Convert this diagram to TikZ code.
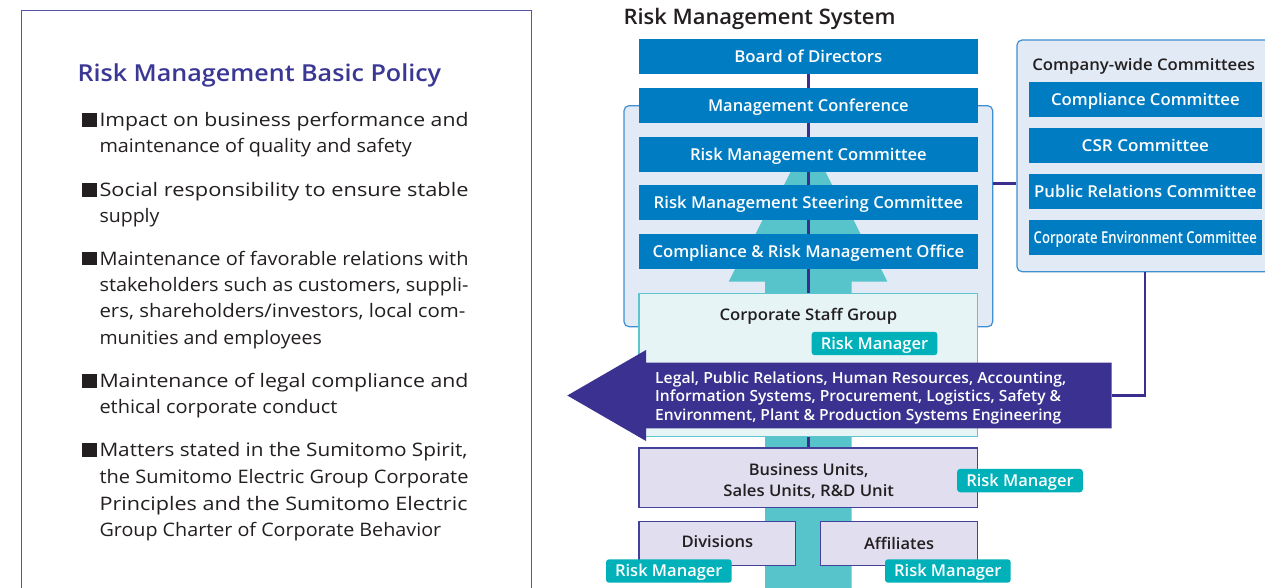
\documentclass[tikz,border=0pt]{standalone}
\usepackage{fontspec}
\usepackage{graphicx}
\setmainfont{Open Sans}
\newfontfamily\semiX{Open Sans}
\IfFontExistsTF{Open Sans SemiBold}{\newfontfamily\semi{Open Sans SemiBold}}{%
  \IfFontExistsTF{Open Sans Semibold}{\newfontfamily\semi{Open Sans Semibold}}{%
    \newcommand{\semi}{\semiX\bfseries}}}
\newcommand{\fw}[2]{\resizebox{#1pt}{\height}{#2}}
\definecolor{cblue}{HTML}{007CC2}
\definecolor{cgrp}{HTML}{E1EAF5}
\definecolor{cgrpb}{HTML}{3F8FD3}
\definecolor{cnavy}{HTML}{3A2F8F}
\definecolor{cpurple}{HTML}{3A3190}
\definecolor{cteal}{HTML}{57C4CC}
\definecolor{ccsg}{HTML}{E6F4F6}
\definecolor{ccsgb}{HTML}{5CC5CD}
\definecolor{clav}{HTML}{E1DEF0}
\definecolor{clavb}{HTML}{44419B}
\definecolor{ctag}{HTML}{00B1B9}
\definecolor{cdark}{HTML}{231F20}
\definecolor{ctitle}{HTML}{3A3894}
\definecolor{cframe}{HTML}{5655A5}
\begin{document}
\begin{tikzpicture}[x=1pt,y=-1pt,
  bluebox/.style={fill=cblue, text=white, font=\semi\fontsize{16.4}{19}\selectfont, inner sep=0pt, minimum height=34.7pt, text height=11.7pt, text depth=0pt},
  mainbox/.style={bluebox, minimum width=338.7pt},
  cwbox/.style={bluebox, minimum width=232.7pt, minimum height=35pt},
  grpbox/.style={fill=cgrp, draw=cgrpb, line width=1.2pt, rounded corners=5pt, inner sep=0pt},
  navyline/.style={draw=cnavy, line width=2.5pt},
  lavbox/.style={fill=clav, draw=clavb, line width=1.3pt, inner sep=0pt, text=cdark, font=\semi\fontsize{16}{19}\selectfont, text height=11.3pt, text depth=0pt},
  rmtag/.style={fill=ctag, text=white, rounded corners=3pt, font=\semi\fontsize{16.4}{19}\selectfont, minimum width=125.7pt, minimum height=23.4pt, inner sep=0pt, text height=11.7pt, text depth=0pt},
  bodytxt/.style={font=\fontsize{18.6}{26}\selectfont, text=cdark, inner sep=0pt, anchor=base west},
  darklbl/.style={font=\semi\fontsize{16}{19}\selectfont, text=cdark, inner sep=0pt, anchor=base},
  arrtxt/.style={font=\semi\fontsize{15.4}{18}\selectfont, text=white, inner sep=0pt, anchor=base west},
  bulletsq/.style={fill=cdark}
]
\useasboundingbox (0,0) rectangle (1265,588);
\clip (0,0) rectangle (1265,588);
\fill[white] (0,0) rectangle (1265,588);

% ---------- left panel ----------
\draw[cframe, line width=1.3pt] (21.3,10.3) rectangle (531.5,610);
\node[anchor=base west, inner sep=0pt, text=ctitle, font=\semi\fontsize{23.4}{26}\selectfont] (ttl) at (77.3,81.7) {\fw{363.7}{Risk Management Basic Policy}};

\foreach \yy in {126.7,196.7,265,387.7,456.7} {
  \fill[bulletsq] (81.7,\yy-13.4) rectangle (96.7,\yy);
}
\node[bodytxt] (l1) at (99.3,126.7) {\fw{369}{Impact on business performance and}};
\node[bodytxt] (l2) at (99.3,152.2) {\fw{312.4}{maintenance of quality and safety}};
\node[bodytxt] (l3) at (99.3,196.7) {\fw{369}{Social responsibility to ensure stable}};
\node[bodytxt] (l4) at (99.3,222.3) {\fw{60}{supply}};
\node[bodytxt] (l5) at (99.3,265) {\fw{369}{Maintenance of favorable relations with}};
\node[bodytxt] (l6) at (99.3,291.5) {\fw{369}{stakeholders such as customers, suppli-}};
\node[bodytxt] (l7) at (99.3,317.7) {\fw{366}{ers, shareholders/investors, local com-}};
\node[bodytxt] (l8) at (99.3,344.3) {\fw{222.3}{munities and employees}};
\node[bodytxt] (l9) at (99.3,387.7) {\fw{369}{Maintenance of legal compliance and}};
\node[bodytxt] (l10) at (99.3,413.3) {\fw{238}{ethical corporate conduct}};
\node[bodytxt] (l11) at (99.3,456.7) {\fw{368}{Matters stated in the Sumitomo Spirit,}};
\node[bodytxt] (l12) at (99.3,483.3) {\fw{369}{the Sumitomo Electric Group Corporate}};
\node[bodytxt] (l13) at (99.3,510) {\fw{368}{Principles and the Sumitomo Electric}};
\node[bodytxt] (l14) at (99.3,536.7) {\fw{341.7}{Group Charter of Corporate Behavior}};

% ---------- right panel ----------
\node[anchor=base west, inner sep=0pt, text=cdark, font=\semi\fontsize{21.4}{24}\selectfont] (rms) at (623.3,24.3) {\fw{272}{Risk Management System}};

\node[grpbox, minimum width=368.7pt, minimum height=221pt] (grp) at (808.35,216.2) {};
\node[grpbox, minimum width=256.4pt, minimum height=231.7pt] (cw) at (1145.2,155.85) {};

% teal tree arrow
\fill[cteal] (808,137) -- (771.5,210) -- (844.5,210) -- cycle;
\fill[cteal] (775,195) -- (841,195) -- (871,255) -- (745,255) -- cycle;
\fill[cteal] (747,245) -- (869,245) -- (887.35,281.7) -- (851.7,281.7) -- (851.7,610) -- (765,610) -- (765,281.7) -- (728.65,281.7) -- cycle;

% main column boxes (line drawn first, under boxes)
\node[mainbox] (board) at (808.35,56.35) {\fw{148}{Board of Directors}};
\node[lavbox, minimum width=338.7pt, minimum height=59.5pt] (bu) at (808.35,477.75) {};
\draw[navyline] (board.south) -- (bu.north);
\node[mainbox] (mc) at (808.35,105.35) {\fw{200.7}{Management Conference}};
\node[mainbox] (rmc) at (808.35,154.35) {\fw{236.7}{Risk Management Committee}};
\node[mainbox] (rmsc) at (808.35,202.35) {\fw{309.3}{Risk Management Steering Committee}};
\node[mainbox] (crmo) at (808.35,251.35) {\fw{311.7}{Compliance \& Risk Management Office}};

% corporate staff group
\node[fill=ccsg, draw=ccsgb, line width=1.2pt, inner sep=0pt, minimum width=338.7pt, minimum height=143pt] (csg) at (808.35,365) {};
\node[darklbl] (csgl) at (808.35,320.7) {\fw{177.7}{Corporate Staff Group}};
\node[rmtag] (rm1) at (874.5,343.5) {\fw{107.5}{Risk Manager}};

% purple arrow
\fill[cpurple] (567.3,395.5) -- (646,350) -- (646,362.7) -- (1111.7,362.7) -- (1111.7,428.3) -- (646,428.3) -- (646,441) -- cycle;
\coordinate (arrR) at (1111.7,395.5);
\node[arrtxt] (a1) at (655,383.3) {\fw{411}{Legal, Public Relations, Human Resources, Accounting,}};
\node[arrtxt] (a2) at (655,401.7) {\fw{406}{Information Systems, Procurement, Logistics, Safety \&}};
\node[arrtxt] (a3) at (655,420) {\fw{406}{Environment, Plant \& Production Systems Engineering}};

% business units
\node[darklbl] (bu1) at (808.7,475) {\fw{119.7}{Business Units,}};
\node[darklbl] (bu2) at (808.7,496.7) {\fw{170.6}{Sales Units, R\&D Unit}};
\node[rmtag] (rm2) at (1020,480.6) {\fw{107.5}{Risk Manager}};

\node[lavbox, minimum width=156.7pt, minimum height=44pt] (div) at (717.35,543.7) {\raisebox{2pt}{\fw{71.7}{Divisions}}};
\node[lavbox, minimum width=156.6pt, minimum height=44pt] (aff) at (899,543.7) {\fw{70}{Affiliates}};
\node[rmtag] (rm3) at (668.85,571) {\fw{107.5}{Risk Manager}};
\node[rmtag] (rm4) at (947.85,571) {\fw{107.5}{Risk Manager}};

% company-wide committees
\node[darklbl] (cwl) at (1143.7,70.7) {\fw{222.7}{Company-wide Committees}};
\node[cwbox] (cc) at (1145.35,99.2) {\fw{188.7}{Compliance Committee}};
\node[cwbox] (csr) at (1145.35,145.2) {\fw{127.3}{CSR Committee}};
\node[cwbox] (prc) at (1145.35,191.5) {\fw{222.3}{Public Relations Committee}};
\node[cwbox] (cec) at (1145.35,237.35) {\fw{223.3}{Corporate Environment Committee}};

% connectors
\coordinate (cy) at (1000,183.3);
\draw[navyline] (grp.east |- cy) -- (cw.west |- cy);
\draw[navyline] (cw.south) |- (arrR);
\end{tikzpicture}
\end{document}
